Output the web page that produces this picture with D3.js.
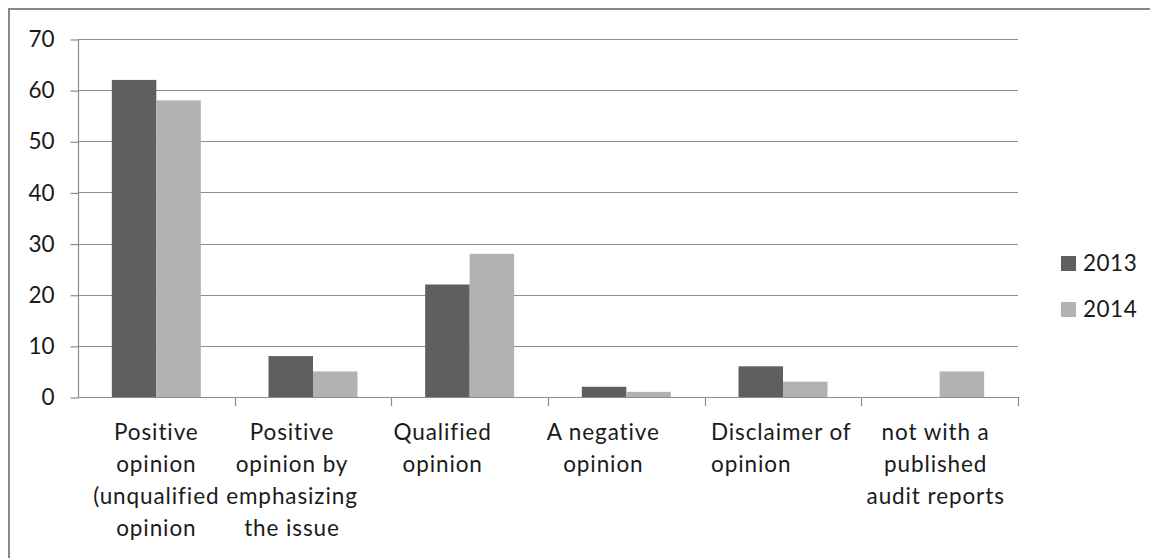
<!DOCTYPE html>
<html>
<head>
<meta charset="utf-8">
<script src="https://cdn.jsdelivr.net/npm/d3@7"></script>
<style>
  html, body { margin: 0; padding: 0; background: #fff; }
  svg { display: block; }
  text { font-family: Lato, "Open Sans", "Liberation Sans", sans-serif; fill: #1a1a1a; }
</style>
</head>
<body>
<svg id="chart" width="1150" height="558"></svg>
<script>
const categories = [
  ["Positive", "opinion", "(unqualified", "opinion"],
  ["Positive", "opinion by", "emphasizing", "the issue"],
  ["Qualified", "opinion"],
  ["A negative", "opinion"],
  ["Disclaimer of", "opinion"],
  ["not with a", "published", "audit reports"]
];
const seriesNames = ["2013", "2014"];
const values2013 = [62, 8, 22, 2, 6, 0];
const values2014 = [58, 5, 28, 1, 3, 5];
const yTicks = [0, 10, 20, 30, 40, 50, 60, 70];
const colors = ["#5f5f5f", "#b2b2b2"];

const svg = d3.select("#chart");
const W = 1150, H = 558;
const plot = { left: 78, right: 1018, top: 39, bottom: 397 };
const FS = "22.5px";
// layout tweaks for category label placement (as in the source rendering)
const labelLayout = [
  { dx: 0, anchor: "middle" },
  { dx: -21, anchor: "middle" },
  { dx: -27, anchor: "middle" },
  { dx: -23, anchor: "middle" },
  { dx: -72, anchor: "start" },
  { dx: -4, anchor: "middle" }
];

// outer frame (right and bottom edges are clipped in the reference)
svg.append("rect")
  .attr("x", 9).attr("y", 9)
  .attr("width", W + 20).attr("height", H + 20)
  .attr("fill", "none").attr("stroke", "#888").attr("stroke-width", 2);

const idx = categories.map((d, i) => i);
const x = d3.scaleBand().domain(idx).range([plot.left, plot.right]).paddingInner(0).paddingOuter(0);
const y = d3.scaleLinear().domain([0, 70]).range([plot.bottom, plot.top]);
const barW = 44.5;
const xs = d3.scaleBand().domain(seriesNames).range([0, barW * 2]);

// gridlines
svg.append("g").selectAll("line").data(yTicks.filter(t => t > 0)).join("line")
  .attr("x1", plot.left).attr("x2", plot.right)
  .attr("y1", d => Math.round(y(d)) + 0.5).attr("y2", d => Math.round(y(d)) + 0.5)
  .attr("stroke", "#8c8c8c").attr("stroke-width", 1.2);

// y axis
const yAxis = d3.axisLeft(y).tickValues(yTicks).tickSize(8).tickPadding(16);
const gy = svg.append("g").attr("transform", `translate(${plot.left + 0.5},0.5)`).call(yAxis);
gy.select(".domain").attr("stroke", "#8c8c8c").attr("stroke-width", 1.2).attr("d", `M0,${plot.top}V${plot.bottom}`);
gy.selectAll(".tick line").attr("stroke", "#8c8c8c").attr("stroke-width", 1.2);
gy.selectAll(".tick text").style("font-size", FS).attr("fill", "#1a1a1a")
  .style("font-family", "Lato, 'Open Sans', sans-serif");

// bars
const data = [values2013, values2014];
const groups = svg.append("g").selectAll("g").data(idx).join("g")
  .attr("transform", d => `translate(${x(d) + (x.bandwidth() - barW * 2) / 2},0)`);
groups.selectAll("rect").data(i => seriesNames.map((s, k) => ({ s, k, v: data[k][i] }))).join("rect")
  .attr("x", d => xs(d.s))
  .attr("width", xs.bandwidth())
  .attr("y", d => y(d.v))
  .attr("height", d => y(0) - y(d.v))
  .attr("fill", d => colors[d.k]);

// x axis
const xAxis = d3.axisBottom(x).tickSize(0).tickFormat("");
const gx = svg.append("g").attr("transform", `translate(0,${plot.bottom + 0.5})`).call(xAxis);
gx.select(".domain").attr("stroke", "#8c8c8c").attr("stroke-width", 1.2).attr("d", `M${plot.left},0H${plot.right}`);
// category boundary ticks
svg.append("g").selectAll("line").data(idx).join("line")
  .attr("x1", d => Math.round(x(d) + x.bandwidth()) + 0.5)
  .attr("x2", d => Math.round(x(d) + x.bandwidth()) + 0.5)
  .attr("y1", plot.bottom).attr("y2", plot.bottom + 9)
  .attr("stroke", "#8c8c8c").attr("stroke-width", 1.2);

// category labels
const lab = svg.append("g").selectAll("text").data(idx).join("text")
  .attr("text-anchor", d => labelLayout[d].anchor)
  .style("font-size", FS)
  .style("letter-spacing", "0.9px")
  .attr("x", d => x(d) + x.bandwidth() / 2 + labelLayout[d].dx)
  .attr("y", 440);
lab.selectAll("tspan").data(i => categories[i]).join("tspan")
  .attr("x", function() { return d3.select(this.parentNode).attr("x"); })
  .attr("dy", (d, j) => j === 0 ? 0 : 32)
  .text(d => d);

// legend
const leg = svg.append("g").selectAll("g").data(seriesNames).join("g")
  .attr("transform", (d, i) => `translate(1061,${256 + i * 46})`);
leg.append("rect").attr("width", 15).attr("height", 15).attr("fill", (d, i) => colors[i]);
leg.append("text").attr("x", 22).attr("y", 7.5).attr("dy", "0.35em")
  .style("font-size", FS).style("letter-spacing", "0.5px").text(d => d);
</script>
</body>
</html>
